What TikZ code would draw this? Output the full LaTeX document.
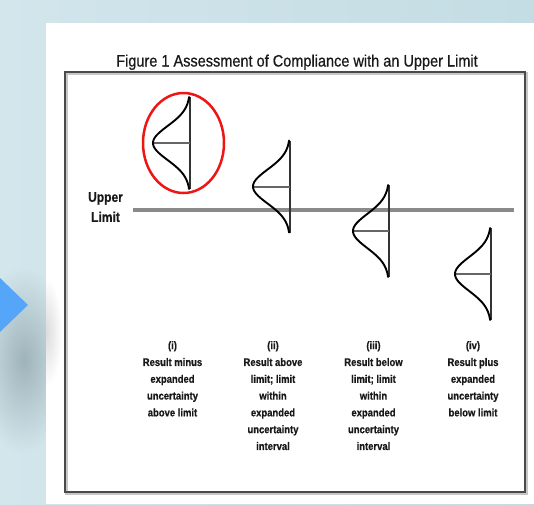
\documentclass[tikz,border=0pt]{standalone}
\usepackage{fontspec}
\setmainfont{Liberation Sans}
\newfontfamily\titlefont[FakeStretch=0.88,FakeBold=0.6]{Liberation Sans}
\newfontfamily\labelfont[FakeStretch=0.86,FakeBold=0.5]{Liberation Sans}

\definecolor{bgleft}{HTML}{D2E6EC}
\definecolor{bgright}{HTML}{C4DCE3}
\definecolor{bgdark}{HTML}{9FB4BA}
\definecolor{arrowblue}{HTML}{55A6F8}
\definecolor{framegray}{HTML}{4A4A4A}
\definecolor{limitgray}{HTML}{8A8A8A}
\definecolor{markred}{HTML}{EE1515}

% half bell curve: vertical axis at x=#1, centre y=#2, bulge width #3
\newcommand\halfbell[3]{%
  \draw[axisline] (#1,#2-46) -- (#1,#2+46);
  \draw[meanline] (#1-#3,#2) -- (#1,#2);
  \draw[curve] plot[domain=-46:46,samples=61,smooth]
    ({#1-#3*exp(-(\x*\x)/578)},{#2+\x});
}

\begin{document}
\begin{tikzpicture}[x=1pt,y=-1pt,
  curve/.style={line width=1.9pt, black, line cap=round, line join=round},
  axisline/.style={line width=1.3pt, black!80},
  meanline/.style={line width=2pt, black!60},
  caption/.style={font=\labelfont\bfseries\fontsize{11}{16.8}\selectfont,
    align=center, anchor=north, inner sep=0pt, text=black!90},
]
\useasboundingbox (0,0) rectangle (534,504);

% backdrop
\shade[left color=bgleft, right color=bgright] (0,0) rectangle (534,504);
\shade[inner color=bgdark, outer color=bgleft] (24,360) ellipse (48 and 95);
\fill[arrowblue] (0,278) -- (28,305) -- (0,332) -- cycle;

% white sheet
\fill[white] (46,23) rectangle (534,504);
\begin{scope}
  \clip (46,23) rectangle (534,504);
  \shade[inner color=black!14, outer color=white] (46,332) ellipse (16 and 55);
\end{scope}

% title
\node[font=\titlefont\fontsize{16.5}{20}\selectfont, anchor=base, inner sep=0pt,
  text=black!90] (title) at (297,66.5)
  {Figure 1 Assessment of Compliance with an Upper Limit};

% frame
\draw[line width=3pt, black!22] (66,73.5) rectangle (526,493.5);
\draw[line width=1.8pt, framegray] (65,72) rectangle (525,492);

% upper limit
\node[font=\labelfont\bfseries\fontsize{14}{20}\selectfont, align=center,
  anchor=north, inner sep=0pt, text=black!90] (limitlabel) at (105.5,192)
  {Upper\\Limit};
\draw[line width=4pt, limitgray] (133,210) -- (514,210);

% distributions
\halfbell{190}{143}{37}
\halfbell{290}{186.5}{37}
\halfbell{389}{231}{36}
\halfbell{491}{274}{36}

% highlighted case
\draw[line width=2.5pt, markred] (183.5,143) ellipse (40.5 and 50);

% captions
\node[caption] (capi) at (172.5,341)
  {(i)\\Result minus\\expanded\\uncertainty\\above limit};
\node[caption] (capii) at (273,341)
  {(ii)\\Result above\\limit; limit\\within\\expanded\\uncertainty\\interval};
\node[caption] (capiii) at (373.5,341)
  {(iii)\\Result below\\limit; limit\\within\\expanded\\uncertainty\\interval};
\node[caption] (capiv) at (473,341)
  {(iv)\\Result plus\\expanded\\uncertainty\\below limit};
\end{tikzpicture}
\end{document}
